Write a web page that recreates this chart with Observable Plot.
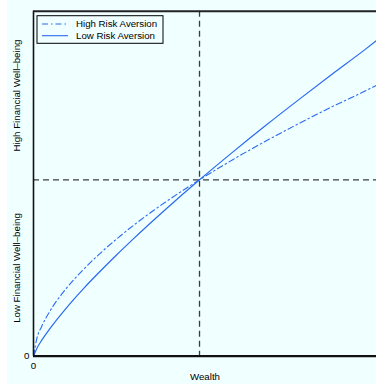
<!DOCTYPE html>
<html>
<head>
<meta charset="utf-8">
<script src="https://cdn.jsdelivr.net/npm/d3@7"></script>
<script src="https://cdn.jsdelivr.net/npm/@observablehq/plot@0.6"></script>
<style>
  html, body { margin: 0; padding: 0; background: #ffffff; }
  #chart { margin-left: 7px; width: 369px; height: 384px; background: #f0ffff; }
  #chart svg { overflow: visible; }
</style>
</head>
<body>
<div id="chart"></div>
<script>
// Wealth levels and the financial well-being reached at each one
const wealth           = [0, 0.02, 0.05, 0.1, 0.2, 0.3, 0.4, 0.5, 0.6, 0.8, 1.0, 1.2, 1.4, 1.6, 1.8, 2.0, 2.066];
const highRiskAversion = [0, 0.10, 0.17, 0.257, 0.387, 0.491, 0.582, 0.664, 0.740, 0.877, 1.0, 1.114, 1.220, 1.320, 1.415, 1.505, 1.536];
const lowRiskAversion  = [0, 0.044, 0.091, 0.158, 0.276, 0.382, 0.480, 0.574, 0.664, 0.836, 1.0, 1.157, 1.309, 1.456, 1.600, 1.741, 1.790];

// Reference levels and axis extents
const refWealth = [1];
const refWellBeing = [1];
const xExtent = [0, 2.066];
const yExtent = [0, 1.956];
const tickValues = [0];

const seriesNames = ["High Risk Aversion", "Low Risk Aversion"];
const sideLabels = [
  {level: 0.5, text: "Low Financial Well–being"},
  {level: 1.478, text: "High Financial Well–being"}
];

const lineColor = "#2a6af0";
const font = "'Liberation Sans', Arial, Helvetica, sans-serif";
const fontSize = 9.7;

const rows = seriesNames.flatMap((name, s) =>
  wealth.map((w, i) => ({wealth: w, value: (s === 0 ? highRiskAversion : lowRiskAversion)[i], series: name}))
);

const plot = Plot.plot({
  width: 369,
  height: 384,
  marginLeft: 26,
  marginRight: 0,
  marginTop: 10.7,
  marginBottom: 28.3,
  style: {background: "transparent", fontFamily: font, fontSize: fontSize + "px", color: "#000"},
  x: {domain: xExtent},
  y: {domain: yExtent},
  marks: [
    Plot.ruleX(refWealth, {stroke: "#3c3c3c", strokeWidth: 1.3, strokeDasharray: "6,4"}),
    Plot.ruleY(refWellBeing, {stroke: "#3c3c3c", strokeWidth: 1.3, strokeDasharray: "6,4"}),
    Plot.line(rows.filter(d => d.series === seriesNames[0]), {
      x: "wealth", y: "value", stroke: lineColor, strokeWidth: 1.1,
      strokeDasharray: "6,3,1.5,3", curve: "monotone-x"
    }),
    Plot.line(rows.filter(d => d.series === seriesNames[1]), {
      x: "wealth", y: "value", stroke: lineColor, strokeWidth: 1.2, curve: "monotone-x"
    }),
    // box lines: left, bottom and top
    Plot.ruleX([0], {stroke: "#111", strokeWidth: 1.6}),
    Plot.ruleY([0], {stroke: "#111", strokeWidth: 2.2}),
    Plot.ruleY([yExtent[1]], {stroke: "#222", strokeWidth: 2}),
    Plot.axisX({ticks: tickValues, tickFormat: d3.format("d"), tickSize: 0, tickPadding: 6, label: null}),
    Plot.axisY({ticks: tickValues, tickFormat: d3.format("d"), tickSize: 0, tickPadding: 4, label: null}),
    Plot.text(["Wealth"], {frameAnchor: "bottom", dy: 21, lineAnchor: "middle", text: d => d, fill: "#000"}),
    Plot.text(sideLabels, {
      y: "level", text: "text", frameAnchor: "left", dx: -17, rotate: -90,
      lineAnchor: "middle", textAnchor: "middle", fill: "#000"
    })
  ]
});

// Line-style legend in the upper-left corner of the frame
const svg = d3.select(plot);
const lg = svg.append("g")
  .attr("font-family", font).attr("font-size", fontSize).attr("text-anchor", "start");
lg.append("rect")
  .attr("x", 30).attr("y", 15.7).attr("width", 126).attr("height", 27.6)
  .attr("fill", "#f0ffff").attr("stroke", "#000").attr("stroke-width", 1);
const rowY = [24, 35.7];
seriesNames.forEach((name, i) => {
  lg.append("line")
    .attr("x1", 35).attr("x2", 61).attr("y1", rowY[i]).attr("y2", rowY[i])
    .attr("stroke", lineColor).attr("stroke-width", 1.1)
    .attr("stroke-dasharray", i === 0 ? "6,3,1.5,3" : null);
  lg.append("text")
    .attr("x", 69).attr("y", rowY[i]).attr("dy", "0.35em")
    .attr("fill", "#000").text(name);
});

document.getElementById("chart").appendChild(plot);
</script>
</body>
</html>
